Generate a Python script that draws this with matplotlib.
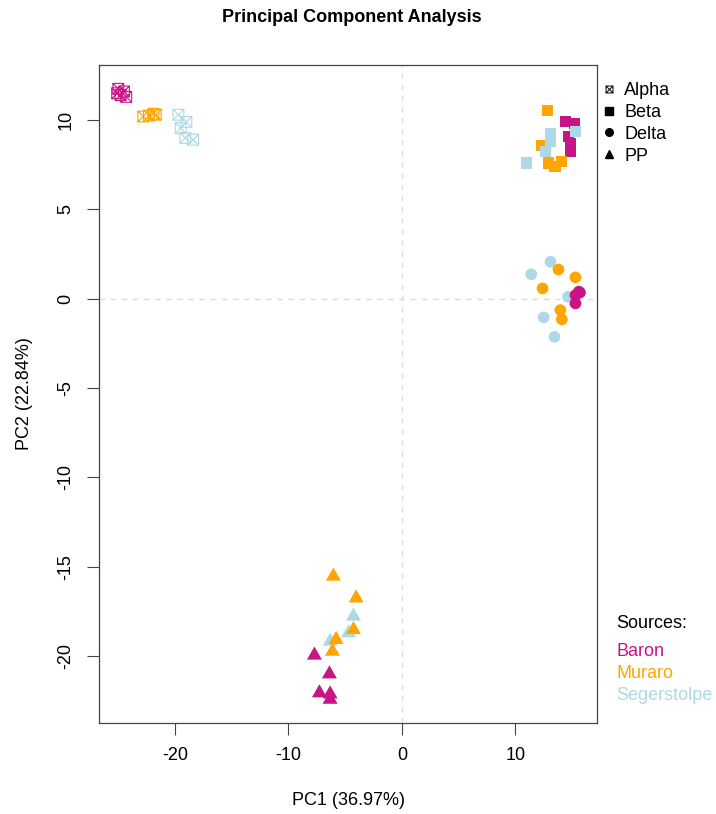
import matplotlib
matplotlib.use("Agg")
import matplotlib.pyplot as plt
from matplotlib.path import Path
from matplotlib.lines import Line2D

plt.rcParams['font.family'] = ['Liberation Sans', 'DejaVu Sans']
plt.rcParams['axes.unicode_minus'] = False

# PCA scores per cell type (PC1, PC2) with the source of each sample
alpha_pc1 = [-25.0, -24.5, -24.8, -24.3, -25.1, -22.8, -22.3, -21.9, -21.7,
             -19.7, -19.0, -19.5, -19.1, -18.4]
alpha_pc2 = [11.75, 11.6, 11.4, 11.3, 11.5, 10.2, 10.25, 10.35, 10.3,
             10.3, 9.9, 9.55, 9.0, 8.9]
alpha_src = ["Baron"] * 5 + ["Muraro"] * 4 + ["Segerstolpe"] * 5

beta_pc1 = [14.4, 15.2, 14.7, 14.85, 14.85, 12.3, 12.8,
            15.3, 13.1, 13.1, 12.65, 11.0, 12.95, 13.5, 14.1]
beta_pc2 = [9.9, 9.8, 9.1, 8.7, 8.25, 8.6, 10.55,
            9.35, 9.27, 8.8, 8.25, 7.6, 7.6, 7.4, 7.67]
beta_src = (["Baron"] * 5 + ["Muraro"] * 2 + ["Segerstolpe"] * 5
            + ["Muraro"] * 3)

delta_pc1 = [13.1, 11.4, 14.65, 12.5, 13.45, 13.8, 15.3, 12.4, 13.97, 14.1,
             15.6, 15.3, 15.3, 15.7]
delta_pc2 = [2.07, 1.37, 0.11, -1.04, -2.13, 1.64, 1.2, 0.58, -0.63, -1.15,
             0.4, 0.2, -0.26, 0.35]
delta_src = ["Segerstolpe"] * 5 + ["Muraro"] * 5 + ["Baron"] * 4

pp_pc1 = [-4.27, -4.7, -6.33, -6.04, -4.03, -4.27, -5.8, -6.12,
          -7.71, -6.39, -7.27, -6.33, -6.33]
pp_pc2 = [-17.7, -18.63, -19.1, -15.46, -16.68, -18.45, -19.0, -19.66,
          -19.88, -20.93, -21.99, -22.05, -22.35]
pp_src = ["Segerstolpe"] * 3 + ["Muraro"] * 5 + ["Baron"] * 5

sources = ["Baron", "Muraro", "Segerstolpe"]
cell_types = ["Alpha", "Beta", "Delta", "PP"]
pc1_var = 36.97
pc2_var = 22.84

palette = {"Baron": "#C71585", "Muraro": "#FFA500", "Segerstolpe": "#ADD8E6"}

# square with an X through it
boxx = Path([(-1, -1), (1, -1), (1, 1), (-1, 1), (-1, -1),
             (-1, -1), (1, 1), (-1, 1), (1, -1)],
            [Path.MOVETO, Path.LINETO, Path.LINETO, Path.LINETO, Path.CLOSEPOLY,
             Path.MOVETO, Path.LINETO, Path.MOVETO, Path.LINETO])
# wide triangle
tri = Path([(-1, -0.75), (1, -0.75), (0, 1), (-1, -0.75)],
           [Path.MOVETO, Path.LINETO, Path.LINETO, Path.CLOSEPOLY])

fig = plt.figure(figsize=(7.16, 8.14), dpi=100)
ax = fig.add_axes([0.1383, 0.1118, 0.6955, 0.8083])

ax.axhline(0, color="#dddddd", lw=1, ls=(0, (4, 4)), zorder=0)
ax.axvline(0, color="#dddddd", lw=1, ls=(0, (4, 4)), zorder=0)

ax.scatter(alpha_pc1, alpha_pc2, marker=boxx, s=7.8 ** 2, facecolors="none",
           edgecolors=[palette[s] for s in alpha_src], linewidths=0.8, zorder=2)
ax.scatter(beta_pc1, beta_pc2, marker="s", s=8 ** 2,
           c=[palette[s] for s in beta_src], linewidths=0, zorder=2)
ax.scatter(delta_pc1, delta_pc2, marker="o", s=8.4 ** 2,
           c=[palette[s] for s in delta_src], linewidths=0, zorder=2)
ax.scatter(pp_pc1, pp_pc2, marker=tri, s=10.8 ** 2,
           c=[palette[s] for s in pp_src], linewidths=0, zorder=2)

ax.set_xlim(-26.7, 17.2)
ax.set_ylim(-23.74, 13.08)
ax.set_xticks([-20, -10, 0, 10])
ax.set_yticks([-20, -15, -10, -5, 0, 5, 10])
ax.tick_params(length=8.5, width=0.8, color="#444444", labelsize=13, pad=9)
ax.tick_params(axis="y", labelrotation=90)
for lab in ax.get_yticklabels():
    lab.set_va("center")
for sp in ax.spines.values():
    sp.set_linewidth(0.9)
    sp.set_color("#444444")

ax.set_xlabel(f"PC1 ({pc1_var:.2f}%)", fontsize=13)
ax.set_ylabel(f"PC2 ({pc2_var:.2f}%)", fontsize=13)
ax.xaxis.set_label_coords(0.5, -0.105)
ax.yaxis.set_label_coords(-0.133, 0.5)

fig.text(352 / 716, 1 - 18 / 814, "Principal Component Analysis",
         ha="center", va="center", fontsize=13, fontweight="bold")

# shape legend
shape_markers = [boxx, "s", "o", "^"]
handles = []
for ct, m in zip(cell_types, shape_markers):
    if ct == "Alpha":
        h = Line2D([], [], marker=m, ls="none", markersize=5, mfc="none",
                   mec="black", mew=0.7)
    else:
        h = Line2D([], [], marker=m, ls="none", markersize=5.5, color="black")
    handles.append(h)
fig.legend(handles, cell_types, loc="upper left", bbox_to_anchor=(600 / 716, 1 - 82 / 814),
           frameon=False, fontsize=13, borderpad=0, borderaxespad=0,
           handlelength=1.0, handletextpad=0.35, labelspacing=0.27)

# source legend
fig.text(616 / 716, 1 - 623 / 814, "Sources:", fontsize=13, va="center")
for src, yp in zip(sources, [651, 673, 695]):
    fig.text(616 / 716, 1 - yp / 814, src, fontsize=13, va="center",
             color=palette[src])

fig.savefig("out.png", dpi=100)
